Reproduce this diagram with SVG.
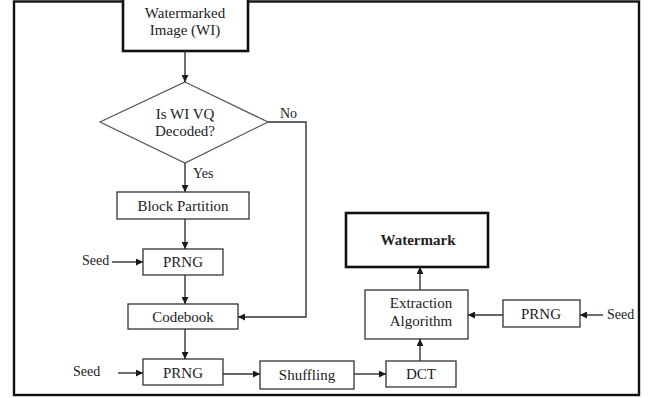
<svg xmlns="http://www.w3.org/2000/svg" width="654" height="398" viewBox="0 0 654 398">
<defs>
<marker id="ah" viewBox="0 0 10 10" refX="10" refY="5" markerWidth="7" markerHeight="7" markerUnits="userSpaceOnUse" orient="auto">
<path d="M0,0 L10,5 L0,10 z" fill="#1a1a1a"/>
</marker>
</defs>
<style>
.box{fill:#fff;stroke:#333;stroke-width:1.3}
.thick{fill:#fff;stroke:#111;stroke-width:2.6}
.t{font-family:"Liberation Serif","Times New Roman",serif;font-size:15px;fill:#222;text-anchor:middle}
.lbl{font-family:"Liberation Serif","Times New Roman",serif;font-size:14px;fill:#222}
.c{fill:none;stroke:#333;stroke-width:1.4;marker-end:url(#ah)}
.cn{fill:none;stroke:#444;stroke-width:1.3}
</style>
<rect x="0" y="0" width="654" height="398" fill="#fff"/>
<rect x="14" y="1.5" width="625" height="393.5" fill="none" stroke="#111" stroke-width="2.4"/>

<g id="watermarked-image">
<rect class="thick" x="123" y="-2" width="125" height="53"/>
<text class="t" x="185" y="18">Watermarked</text>
<text class="t" x="185" y="35">Image (WI)</text>
</g>
<g id="decision">
<polygon points="185,82 268,122 185,163 100,122" fill="#fff" stroke="#555" stroke-width="1.2"/>
<text class="t" x="185" y="119">Is WI VQ</text>
<text class="t" x="185" y="136">Decoded?</text>
</g>
<g id="block-partition">
<rect class="box" x="117" y="192" width="132" height="27"/>
<text class="t" x="183" y="211">Block Partition</text>
</g>
<g id="prng1">
<rect class="box" x="143" y="249" width="80" height="26"/>
<text class="t" x="183" y="267">PRNG</text>
</g>
<g id="codebook">
<rect class="box" x="128" y="304" width="110" height="25"/>
<text class="t" x="183" y="322">Codebook</text>
</g>
<g id="prng2">
<rect class="box" x="143" y="359" width="80" height="26"/>
<text class="t" x="183" y="378">PRNG</text>
</g>
<g id="shuffling">
<rect class="box" x="260" y="361" width="94" height="28"/>
<text class="t" x="307" y="380">Shuffling</text>
</g>
<g id="dct">
<rect class="box" x="386" y="361" width="70" height="26"/>
<text class="t" x="421" y="379">DCT</text>
</g>
<g id="extraction">
<rect class="box" x="365" y="290" width="103" height="49"/>
<text class="t" x="421" y="308">Extraction</text>
<text class="t" x="421" y="326">Algorithm</text>
</g>
<g id="watermark">
<rect class="thick" x="346" y="213" width="142" height="54"/>
<text class="t" x="418" y="245" font-weight="bold">Watermark</text>
</g>
<g id="prng3">
<rect class="box" x="503" y="300" width="77" height="27"/>
<text class="t" x="541" y="319">PRNG</text>
</g>
<g id="seed1"><text class="lbl" x="82" y="265">Seed</text></g>
<g id="seed2"><text class="lbl" x="73" y="376">Seed</text></g>
<g id="seed3"><text class="lbl" x="607" y="319">Seed</text></g>
<g id="no-label"><text class="lbl" x="280" y="118">No</text></g>
<g id="yes-label"><text class="lbl" x="193" y="178">Yes</text></g>

<g id="connectors">
<path class="c" d="M185,51 V82"/>
<path class="c" d="M185,163 V192"/>
<path class="c" d="M185,219 V249"/>
<path class="c" d="M185,275 V304"/>
<path class="c" d="M185,329 V359"/>
<path class="c" d="M112,262 H143"/>
<path class="c" d="M118,373 H143"/>
<path class="c" d="M268,122 H306 V317 H238"/>
<path class="c" d="M223,374 H260"/>
<path class="c" d="M354,374 H386"/>
<path class="c" d="M420,361 V339"/>
<path class="c" d="M420,290 V267"/>
<path class="c" d="M503,315 H468"/>
<path class="c" d="M603,315 H580"/>
</g>
</svg>
